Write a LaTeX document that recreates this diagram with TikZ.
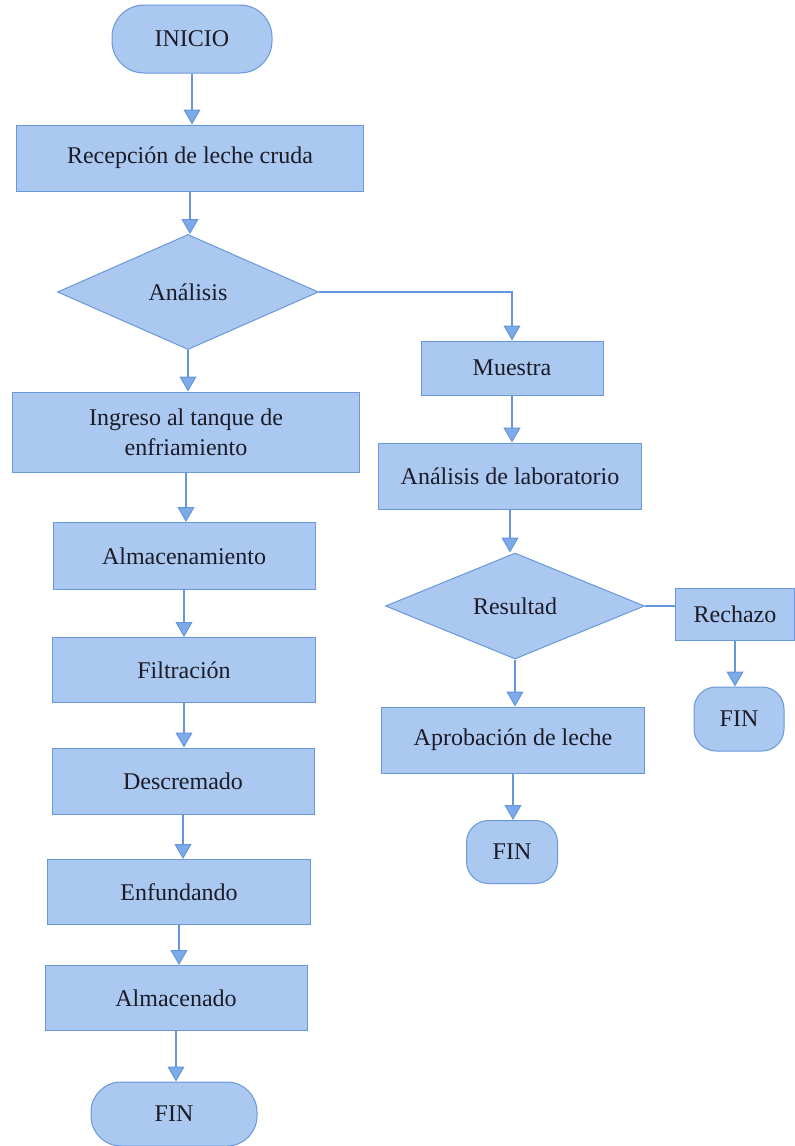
\documentclass[tikz,border=0pt]{standalone}
\usepackage{fontspec}
\setmainfont{Liberation Serif}
\usetikzlibrary{shapes.geometric,arrows.meta}
\definecolor{boxfill}{RGB}{170,200,240}
\definecolor{boxline}{RGB}{105,152,218}
\definecolor{arrowc}{RGB}{100,150,222}
\definecolor{tipfill}{RGB}{125,170,232}
\definecolor{txt}{RGB}{28,28,40}
\tikzset{
  base/.style={draw=boxline, fill=boxfill, line width=1pt, text=txt, inner sep=2pt,
    font=\fontsize{24}{30}\selectfont, align=center},
  procbox/.style={base, rectangle},
  termbox/.style={base, rectangle, rounded corners=#1},
  decbox/.style={base, diamond, inner sep=0pt},
  arr/.style={draw=arrowc, line width=1.8pt, -{Triangle[width=17pt,length=15pt,fill=tipfill,line width=1pt]}},
  thinarr/.style={draw=arrowc, line width=1.2pt, -{Triangle[width=17pt,length=15pt,fill=tipfill,line width=1pt]}},
  plain/.style={draw=arrowc, line width=1.3pt}
}
\begin{document}
\begin{tikzpicture}[x=1pt,y=-1pt]
\useasboundingbox (0,0) rectangle (795,1146);
% left column
\node[termbox=32pt, minimum width=160pt, minimum height=68pt] (ini) at (192,39) {INICIO};
\node[procbox, minimum width=347pt, minimum height=66pt] (rec) at (190,158) {Recepción de leche cruda};
\node[decbox, minimum width=261pt, minimum height=115pt] (an) at (188,292) {Análisis};
\node[procbox, minimum width=347pt, minimum height=80pt] (ing) at (186,432) {Ingreso al tanque de\\enfriamiento};
\node[procbox, minimum width=262pt, minimum height=67pt] (alm) at (184,556) {Almacenamiento};
\node[procbox, minimum width=263pt, minimum height=65pt] (fil) at (184,670) {Filtración};
\node[procbox, minimum width=262pt, minimum height=66pt] (des) at (183,781) {Descremado};
\node[procbox, minimum width=263pt, minimum height=65pt] (enf) at (179,892) {Enfundando};
\node[procbox, minimum width=262pt, minimum height=65pt] (alc) at (176,998) {Almacenado};
\node[termbox=30pt, minimum width=166pt, minimum height=64pt] (fin1) at (174,1114) {FIN};
% right column
\node[procbox, minimum width=182pt, minimum height=54pt] (mue) at (512,368) {Muestra};
\node[procbox, minimum width=263pt, minimum height=66pt] (lab) at (510,476) {Análisis de laboratorio};
\node[decbox, minimum width=259pt, minimum height=106pt] (res) at (515,606) {Resultad};
\node[procbox, minimum width=263pt, minimum height=66pt] (apr) at (513,740) {Aprobación de leche};
\node[termbox=22pt, minimum width=91pt, minimum height=63pt] (fin2) at (512,852) {FIN};
\node[procbox, minimum width=119pt, minimum height=52pt] (rz) at (735,614) {Rechazo};
\node[termbox=22pt, minimum width=90pt, minimum height=64pt] (fin3) at (739,719) {FIN};
% connectors
\draw[arr] (ini.south) -- (ini.south |- rec.north);
\draw[arr] (rec.south) -- (rec.south |- an.north);
\draw[arr] (an.south) -- (an.south |- ing.north);
\draw[arr] (ing.south) -- (ing.south |- alm.north);
\draw[arr] (alm.south) -- (alm.south |- fil.north);
\draw[arr] (fil.south) -- (fil.south |- des.north);
\draw[arr] (des.south) -- (des.south |- enf.north);
\draw[arr] (enf.south) -- (enf.south |- alc.north);
\draw[arr] (alc.south) -- (alc.south |- fin1.north);
\draw[thinarr] (an.east) -| (mue.north);
\draw[arr] (mue.south) -- (mue.south |- lab.north);
\draw[arr] (lab.south) -- (lab.south |- res.north);
\draw[arr] (res.south) -- (res.south |- apr.north);
\draw[arr] (apr.south) -- (apr.south |- fin2.north);
\draw[plain] (res.east) -- (res.east -| rz.west);
\draw[arr] (rz.south) -- (rz.south |- fin3.north);
\end{tikzpicture}
\end{document}
